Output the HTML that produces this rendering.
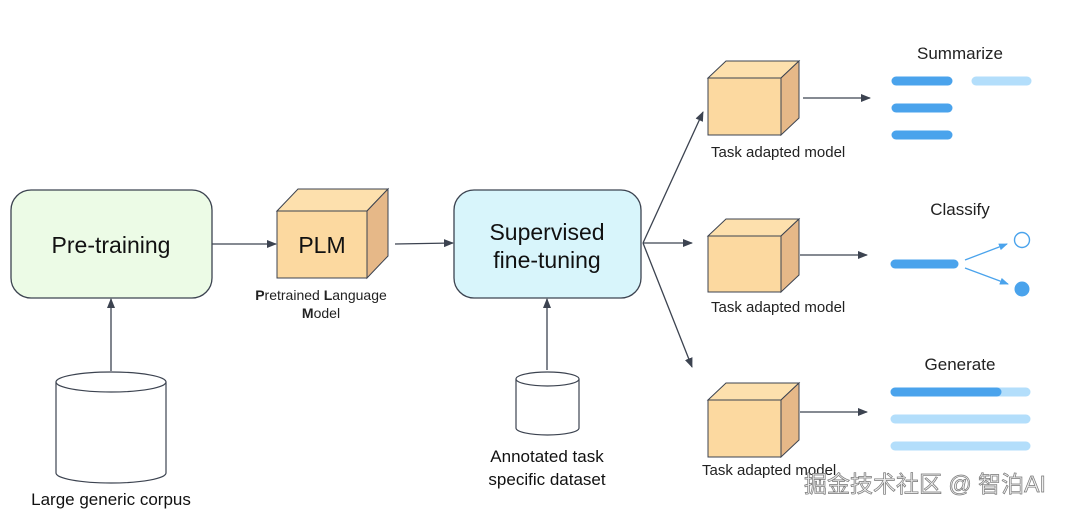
<!DOCTYPE html>
<html><head><meta charset="utf-8"><style>
html,body{margin:0;padding:0;background:#fff;}
svg{display:block;font-family:"Liberation Sans","Noto Sans CJK SC",sans-serif;}
</style></head><body>
<svg width="1080" height="511" viewBox="0 0 1080 511" xmlns="http://www.w3.org/2000/svg">
<defs>
<marker id="ah" markerWidth="10" markerHeight="8" refX="9" refY="4" orient="auto" markerUnits="userSpaceOnUse"><path d="M0,0 L10,4 L0,8 Z" fill="#3c4350"/></marker>
<marker id="ab" markerWidth="9" markerHeight="7" refX="8" refY="3.5" orient="auto" markerUnits="userSpaceOnUse"><path d="M0,0 L9,3.5 L0,7 Z" fill="#4aa3ec"/></marker>
</defs>
<g stroke="#3c4350" stroke-width="1.3" fill="none">
<line x1="212" y1="244" x2="276" y2="244" marker-end="url(#ah)"/>
<line x1="395" y1="244" x2="453" y2="243" marker-end="url(#ah)"/>
<line x1="547" y1="370" x2="547" y2="299" marker-end="url(#ah)"/>
<line x1="111" y1="371" x2="111" y2="299" marker-end="url(#ah)"/>
<line x1="643" y1="243" x2="703" y2="112" marker-end="url(#ah)"/>
<line x1="643" y1="243" x2="692" y2="243" marker-end="url(#ah)"/>
<line x1="643" y1="243" x2="692" y2="367" marker-end="url(#ah)"/>
<line x1="803" y1="98" x2="870" y2="98" marker-end="url(#ah)"/>
<line x1="800" y1="255" x2="867" y2="255" marker-end="url(#ah)"/>
<line x1="800" y1="412" x2="867" y2="412" marker-end="url(#ah)"/>
</g>
<rect x="11" y="190" width="201" height="108" rx="20" fill="#ecfbe6" stroke="#3c4350" stroke-width="1.3"/>
<text x="111" y="253" font-size="23" text-anchor="middle" fill="#111">Pre-training</text>
<rect x="454" y="190" width="187" height="108" rx="20" fill="#d8f5fb" stroke="#3c4350" stroke-width="1.3"/>
<text x="547" y="240" font-size="23" text-anchor="middle" fill="#111">Supervised</text>
<text x="547" y="268" font-size="23" text-anchor="middle" fill="#111">fine-tuning</text>
<g stroke="#3c4350" stroke-width="1">
<path d="M277,211 L298,189 L388,189 L367,211 Z" fill="#fde0ad"/>
<path d="M367,211 L388,189 L388,256 L367,278 Z" fill="#e6b888"/>
<rect x="277" y="211" width="90" height="67" fill="#fcd9a0"/>
</g>
<text x="322" y="253" font-size="23" text-anchor="middle" fill="#111">PLM</text>
<text x="321" y="300" font-size="14" text-anchor="middle" fill="#222"><tspan font-weight="bold">P</tspan>retrained <tspan font-weight="bold">L</tspan>anguage</text>
<text x="321" y="318" font-size="14" text-anchor="middle" fill="#222"><tspan font-weight="bold">M</tspan>odel</text>
<g stroke="#3c4350" stroke-width="1">
<path d="M708,78 L726,61 L799,61 L781,78 Z" fill="#fde0ad"/><path d="M781,78 L799,61 L799,118 L781,135 Z" fill="#e6b888"/><rect x="708" y="78" width="73" height="57" fill="#fcd9a0"/>
<path d="M708,236 L726,219 L799,219 L781,236 Z" fill="#fde0ad"/><path d="M781,236 L799,219 L799,275 L781,292 Z" fill="#e6b888"/><rect x="708" y="236" width="73" height="56" fill="#fcd9a0"/>
<path d="M708,400 L726,383 L799,383 L781,400 Z" fill="#fde0ad"/><path d="M781,400 L799,383 L799,440 L781,457 Z" fill="#e6b888"/><rect x="708" y="400" width="73" height="57" fill="#fcd9a0"/>
</g>
<g font-size="15" fill="#222">
<text x="711" y="157">Task adapted model</text>
<text x="711" y="312">Task adapted model</text>
<text x="702" y="475">Task adapted model</text>
</g>
<g stroke="#3c4350" stroke-width="1.2" fill="#fff">
<path d="M56,382 L56,473 A55,10 0 0 0 166,473 L166,382"/>
<ellipse cx="111" cy="382" rx="55" ry="10"/>
<path d="M516,379 L516,428 A31.5,7 0 0 0 579,428 L579,379"/>
<ellipse cx="547.5" cy="379" rx="31.5" ry="7"/>
</g>
<text x="111" y="505" font-size="17" text-anchor="middle" fill="#111">Large generic corpus</text>
<text x="547" y="462" font-size="17" text-anchor="middle" fill="#111">Annotated task</text>
<text x="547" y="485" font-size="17" text-anchor="middle" fill="#111">specific dataset</text>
<g font-size="17" text-anchor="middle" fill="#222">
<text x="960" y="59">Summarize</text>
<text x="960" y="215">Classify</text>
<text x="960" y="370">Generate</text>
</g>
<g stroke-linecap="round" stroke-width="9">
<line x1="896" y1="81" x2="948" y2="81" stroke="#4aa3ec"/>
<line x1="976" y1="81" x2="1027" y2="81" stroke="#b3defb"/>
<line x1="896" y1="108" x2="948" y2="108" stroke="#4aa3ec"/>
<line x1="896" y1="135" x2="948" y2="135" stroke="#4aa3ec"/>
<line x1="895" y1="264" x2="954" y2="264" stroke="#4aa3ec"/>
<line x1="895" y1="392" x2="1026" y2="392" stroke="#b3defb"/>
<line x1="895" y1="392" x2="997" y2="392" stroke="#4aa3ec"/>
<line x1="895" y1="419" x2="1026" y2="419" stroke="#b3defb"/>
<line x1="895" y1="446" x2="1026" y2="446" stroke="#b3defb"/>
</g>
<g stroke="#4aa3ec" stroke-width="1.3">
<line x1="965" y1="260" x2="1007" y2="244" marker-end="url(#ab)"/>
<line x1="965" y1="268" x2="1008" y2="284" marker-end="url(#ab)"/>
</g>
<circle cx="1022" cy="240" r="7.5" fill="#fff" stroke="#4aa3ec" stroke-width="1.4"/>
<circle cx="1022" cy="289" r="7.5" fill="#4aa3ec"/>
<text x="804" y="492" font-size="23" fill="#eee" stroke="#777" stroke-width="0.7">掘金技术社区 @ 智泊AI</text>
</svg>
</body></html>
